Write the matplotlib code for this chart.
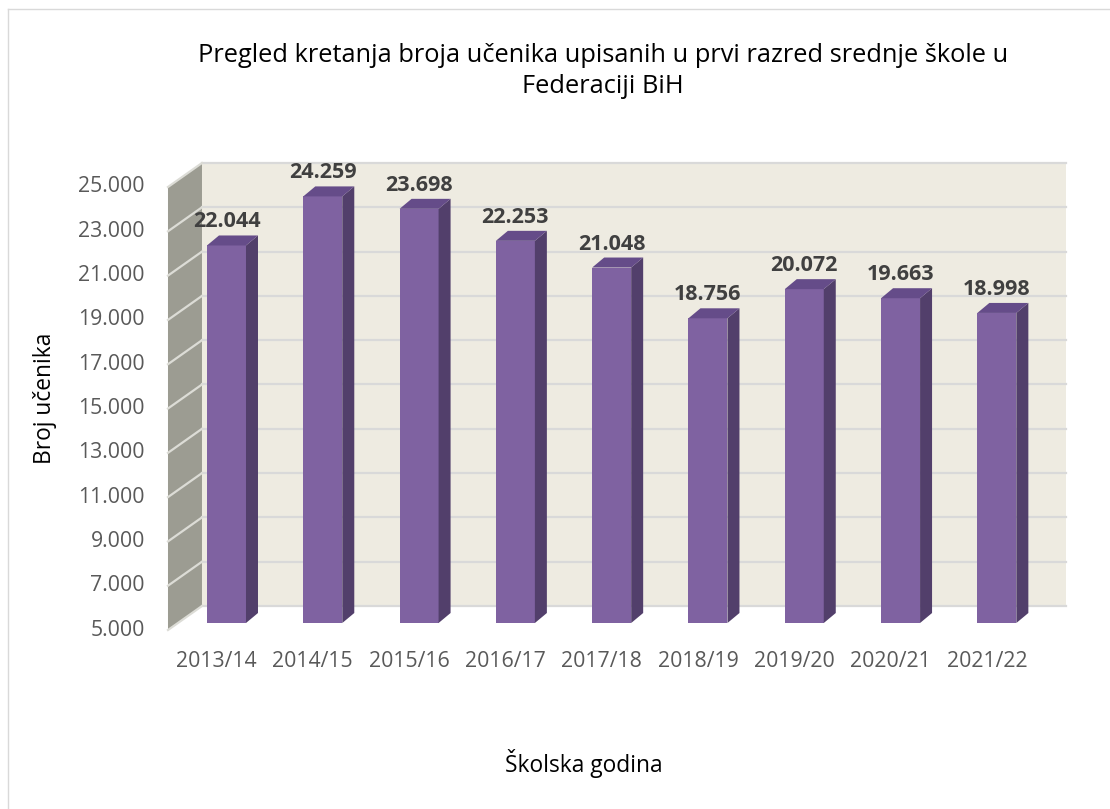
import matplotlib.pyplot as plt
from matplotlib.patches import Polygon, Rectangle

# Data
years = ['2013/14', '2014/15', '2015/16', '2016/17', '2017/18',
         '2018/19', '2019/20', '2020/21', '2021/22']
students = [22044, 24259, 23698, 22253, 21048, 18756, 20072, 19663, 18998]
yticks = list(range(5000, 25001, 2000))

plt.rcParams['font.family'] = ['Open Sans', 'DejaVu Sans']

fig = plt.figure(figsize=(11.1, 8.09), dpi=100)
ax = fig.add_axes([0, 0, 1, 1])
ax.set_xlim(-2.352, 9.175)
ax.set_ylim(-3081, 33442)
ax.axis('off')

# pixel -> data helpers for the fake 3d depth
PX_X = 1 / 96.3
PX_Y = 1000 / 22.15

wall_dx, wall_dy = 34 * PX_X, 24 * PX_Y
wall_x0 = -0.6075
wall_x1 = 8.7175
ymin, ymax = 5000, 25000

# back wall
ax.add_patch(Rectangle((wall_x0 + wall_dx, ymin + wall_dy), wall_x1 - wall_x0 - wall_dx,
                       ymax - ymin, facecolor='#EEEBE1', edgecolor='none', zorder=1))
# side wall
ax.add_patch(Polygon([(wall_x0, ymin), (wall_x0, ymax), (wall_x0 + wall_dx, ymax + wall_dy),
                      (wall_x0 + wall_dx, ymin + wall_dy)],
                     facecolor='#9C9C92', edgecolor='none', zorder=1))
for v in yticks:
    ax.plot([wall_x0 + wall_dx, wall_x1], [v + wall_dy, v + wall_dy], color='#D9D9D9', lw=1.6, zorder=2)
    ax.plot([wall_x0, wall_x0 + wall_dx], [v, v + wall_dy], color='#DCDCD6', lw=1.6, zorder=2)
    ax.text(wall_x0 - 23 * PX_X, v, f"{v:,}".replace(',', '.'), ha='right', va='center',
            fontsize=15.3, color='#595959')

# bars
base = ymin + 7 * PX_Y
bw = 0.405
ddx, ddy = 12 * PX_X, 10 * PX_Y
for i, v in enumerate(students):
    top = v + 7 * PX_Y
    ax.bar(i, v - ymin, bottom=base, width=bw, color='#7F62A1', zorder=3)
    xr = i + bw / 2
    xl = i - bw / 2
    ax.add_patch(Polygon([(xr, base), (xr, top), (xr + ddx, top + ddy), (xr + ddx, base + ddy)],
                         facecolor='#523F6B', edgecolor='none', zorder=3))
    ax.add_patch(Polygon([(xl, top), (xr, top), (xr + ddx, top + ddy), (xl + ddx, top + ddy)],
                         facecolor='#654C89', edgecolor='none', zorder=3))
    ax.text(i, top + ddy + 8 * PX_Y, f"{v:,}".replace(',', '.'), ha='center', va='baseline',
            fontsize=15.5, fontweight='bold', color='#404040', zorder=4)
    ax.text(i - 10 * PX_X, ymin - 31.5 * PX_Y, years[i], ha='center', va='center',
            fontsize=15.3, color='#595959')

# titles
fig.text(603 / 1110, 1 - 71 / 809, 'Pregled kretanja broja učenika upisanih u prvi razred srednje škole u\nFederaciji BiH',
         ha='center', va='center', fontsize=18.3, linespacing=1.35)
fig.text(45 / 1110, 1 - 398 / 809, 'Broj učenika', rotation=90, ha='center', va='center', fontsize=16.4)
fig.text(584 / 1110, 1 - 772 / 809, 'Školska godina', ha='center', va='baseline', fontsize=16.4)

# chart border
fig.add_artist(plt.Line2D([8 / 1110, 8 / 1110], [0, 1 - 9 / 809], transform=fig.transFigure, color='#D9D9D9', lw=1))
fig.add_artist(plt.Line2D([8 / 1110, 1], [1 - 9 / 809, 1 - 9 / 809], transform=fig.transFigure, color='#D9D9D9', lw=1))

fig.savefig('out.png', dpi=100)
